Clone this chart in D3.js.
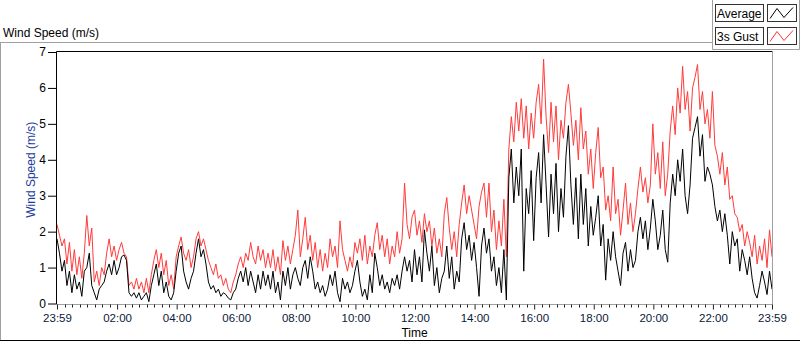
<!DOCTYPE html>
<html>
<head>
<meta charset="utf-8">
<script src="https://cdn.jsdelivr.net/npm/d3@7"></script>
<style>
  body { margin: 0; background: #fff; }
  svg { display: block; font-family: "Liberation Sans", Arial, sans-serif; }
</style>
</head>
<body>
<div class="container"></div>
<script>
/********** the Data **********/
// one sample every 5 minutes, starting at 23:59
let sampleStep = 5;

let seriesNames = ["Average", "3s Gust"];

let gust = [
  2.2,1.9,1.6,1.8,1.1,1.7,0.9,1.5,0.8,1.3,0.7,1.4,
  2.45,1.6,2.1,0.6,0.9,0.5,1.0,0.8,1.4,1.8,1.3,1.6,
  1.2,1.5,1.7,1.4,1.3,0.5,0.6,0.4,0.7,0.4,0.6,0.3,
  0.7,0.3,0.8,1.2,1.5,1.0,1.4,0.8,1.2,0.5,0.8,0.4,
  1.3,1.6,1.85,1.4,1.2,1.5,1.0,1.3,1.8,2.0,1.6,1.8,
  1.5,1.2,1.0,0.8,1.1,0.7,0.8,0.5,0.7,0.4,0.3,0.6,
  0.8,1.1,1.3,1.0,1.4,1.2,1.7,1.3,1.1,1.6,1.2,1.5,
  1.0,1.4,1.0,1.5,0.9,1.3,0.8,1.75,1.2,1.6,1.1,1.5,
  1.9,2.6,1.3,1.8,2.4,1.5,1.9,1.2,1.7,1.0,1.5,0.9,
  1.4,1.0,1.8,1.3,1.6,1.0,2.3,1.5,1.2,0.9,1.3,1.0,
  1.7,1.4,1.8,1.2,1.9,1.1,1.6,1.3,1.9,2.25,1.5,1.9,
  1.3,1.8,1.1,1.6,1.3,2.0,1.4,1.8,3.35,2.2,1.8,2.4,
  2.6,1.9,2.3,1.7,2.5,2.0,2.3,1.6,2.1,1.4,1.8,1.3,
  2.5,2.95,2.1,1.5,2.0,1.3,2.2,2.8,3.3,2.5,3.0,2.6,
  2.2,1.8,2.7,3.1,3.35,2.4,3.35,2.0,2.6,1.5,2.3,1.6,
  2.9,1.3,4.3,5.2,4.5,5.6,4.8,5.7,4.6,5.5,4.3,5.3,
  4.6,5.6,6.1,5.0,6.8,5.2,4.2,5.6,4.5,5.5,4.0,5.1,
  4.6,5.6,6.1,5.3,4.4,5.1,4.0,5.45,4.3,4.8,3.6,4.3,
  3.2,4.2,4.9,3.5,3.8,2.6,3.0,2.3,3.8,2.5,2.9,1.9,
  2.6,3.35,2.2,2.8,2.0,2.5,3.2,3.8,3.1,3.5,2.8,3.3,
  5.0,3.6,4.2,3.2,4.5,3.0,3.6,4.8,5.5,4.7,6.0,5.3,
  6.6,5.4,5.9,4.8,6.0,6.3,6.65,5.4,5.9,5.0,5.4,4.6,
  5.9,4.4,4.1,3.6,4.2,3.3,3.8,2.9,3.0,2.5,2.4,2.0,
  2.2,1.6,2.0,1.7,1.3,1.9,1.1,1.6,1.2,1.8,1.0,2.05,
  1.3
];

let average = [
  1.8,1.4,0.9,1.2,0.5,0.9,0.3,0.8,0.4,0.6,0.2,0.9,
  1.0,1.4,0.5,0.3,0.1,0.4,0.5,0.6,0.9,1.1,0.8,1.2,
  0.8,1.0,1.3,1.35,1.2,0.3,0.2,0.3,0.15,0.3,0.1,0.2,
  0.3,0.05,0.5,0.8,1.1,0.5,0.9,0.3,0.6,0.2,0.1,0.3,
  0.9,1.4,1.6,0.9,0.6,0.4,0.7,0.9,1.4,1.8,1.3,1.5,
  1.1,0.6,0.4,0.5,0.3,0.4,0.2,0.3,0.25,0.15,0.1,0.3,
  0.4,0.7,0.9,0.6,1.0,0.5,0.9,0.6,0.3,0.8,0.4,0.9,
  0.5,0.8,0.4,0.9,0.3,0.6,0.1,0.9,0.5,1.0,0.4,0.8,
  1.0,0.7,0.5,1.0,1.2,0.7,1.3,0.9,0.4,0.6,0.3,0.5,
  0.2,0.4,0.8,0.5,0.9,0.3,0.05,0.7,0.4,0.6,0.3,0.5,
  0.9,1.2,0.6,0.2,0.4,0.1,0.8,0.3,1.4,1.0,0.5,0.8,
  0.4,0.6,0.3,0.7,0.5,0.8,0.4,0.9,1.3,0.9,1.2,0.6,
  1.5,0.8,1.3,0.6,2.05,1.4,0.9,1.6,0.5,1.0,0.3,0.7,
  0.9,1.6,0.7,1.3,0.4,0.9,0.6,1.8,2.25,1.5,1.9,1.2,
  1.7,1.0,0.2,1.6,2.1,1.4,1.8,0.9,1.3,0.5,1.0,0.3,
  1.5,0.1,3.5,4.3,2.8,3.8,3.0,4.3,0.9,3.2,2.5,3.7,
  1.75,3.5,4.2,2.8,4.7,3.3,1.85,3.6,2.5,3.9,2.0,3.2,
  2.4,4.1,4.95,3.3,2.2,3.5,1.8,3.6,2.2,3.2,1.6,2.7,
  1.9,2.4,3.0,1.6,2.2,0.65,1.8,1.2,2.0,1.3,0.9,0.5,
  1.4,1.7,0.9,1.5,1.0,1.2,2.0,2.4,1.8,2.3,1.5,2.1,
  2.9,2.3,1.5,1.9,2.6,1.5,1.15,2.8,3.6,3.0,4.0,3.4,
  4.3,3.0,2.5,3.3,4.6,4.9,5.2,4.1,4.7,3.4,3.8,3.6,
  3.3,2.7,2.3,2.6,2.0,2.5,1.9,1.1,2.0,1.6,1.8,0.9,
  1.5,1.2,0.8,1.3,0.7,0.3,0.15,0.5,0.9,0.6,0.25,0.9,
  0.4
];

// x ticks, in minutes after 23:59
let xTickMinutes = [0, 121, 241, 361, 481, 601, 721, 841, 961, 1081, 1201, 1321, 1440];
let xTickLabels = ["23:59", "02:00", "04:00", "06:00", "08:00", "10:00", "12:00",
                   "14:00", "16:00", "18:00", "20:00", "22:00", "23:59"];
let yTicks = [0, 1, 2, 3, 4, 5, 6, 7];


/********** drawChart function **********/
function drawChart() {
  let width = 800, height = 342;
  let plot = {left: 57, right: 772, top: 52, bottom: 303.5};

  let svg = d3.select(".container")
    .append("svg")
      .attr("width", width)
      .attr("height", height);

  let xScale = d3.scaleLinear()
    .domain([0, 1440])
    .range([plot.left, plot.right]);

  let yScale = d3.scaleLinear()
    .domain([0, 7])
    .range([plot.bottom, plot.top]);

  /***** outer frame + title *****/
  svg.append("line")  // top, grey, stops at legend panel
    .attr("x1", 0).attr("x2", 712).attr("y1", 42.5).attr("y2", 42.5)
    .attr("stroke", "#a0a0a0");
  svg.append("line")
    .attr("x1", 0.5).attr("x2", 0.5).attr("y1", 42.5).attr("y2", 341)
    .attr("stroke", "#a0a0a0");
  svg.append("line")
    .attr("x1", 0).attr("x2", 800).attr("y1", 340.5).attr("y2", 340.5)
    .attr("stroke", "#000");

  svg.append("text")
    .attr("x", 3).attr("y", 37)
    .attr("font-size", 12)
    .text("Wind Speed (m/s)");

  /***** legend panel *****/
  let legend = svg.append("g").attr("class", "legend");
  legend.append("path")
    .attr("d", "M712.5,0 V49.5 H799.5 V0")
    .attr("fill", "none")
    .attr("stroke", "#a0a0a0");

  let legendColors = ["#000", "#ff3333"];
  seriesNames.forEach((name, i) => {
    let y0 = 4.5 + i * 23;
    legend.append("rect")
      .attr("x", 715.5).attr("y", y0).attr("width", 48).attr("height", 17)
      .attr("fill", "#fff").attr("stroke", "#333");
    legend.append("text")
      .attr("x", 717).attr("y", y0 + 13)
      .attr("font-size", 12)
      .text(name);
    legend.append("rect")
      .attr("x", 767.5).attr("y", y0).attr("width", 29).attr("height", 17)
      .attr("fill", "#fff").attr("stroke", "#333");
    legend.append("path")
      .attr("d", `M770,${y0 + 14} L777,${y0 + 4} L784,${y0 + 13} L793,${y0 + 3}`)
      .attr("fill", "none")
      .attr("stroke", legendColors[i]);
  });

  /***** data lines *****/
  svg.append("clipPath").attr("id", "plot-clip")
    .append("rect")
      .attr("x", plot.left).attr("y", plot.top)
      .attr("width", plot.right - plot.left).attr("height", plot.bottom - plot.top + 1);

  let line = d3.line()
    .x((d, i) => xScale(i * sampleStep))
    .y(d => yScale(d));

  let lines = svg.append("g").attr("clip-path", "url(#plot-clip)");
  lines.append("path")
    .datum(gust)
    .attr("d", line)
    .attr("fill", "none")
    .attr("stroke", "#ff3b3b")
    .attr("stroke-width", 1);
  lines.append("path")
    .datum(average)
    .attr("d", line)
    .attr("fill", "none")
    .attr("stroke", "#000")
    .attr("stroke-width", 1);

  /***** plot border: dark top/left, light bottom/right *****/
  svg.append("path")
    .attr("d", `M${plot.left - 0.5},${plot.bottom + 1} V${plot.top - 0.5} H${plot.right + 0.5}`)
    .attr("fill", "none").attr("stroke", "#000");
  svg.append("path")
    .attr("d", `M${plot.left - 0.5},${plot.bottom + 1} H${plot.right + 0.5} V${plot.top - 0.5}`)
    .attr("fill", "none").attr("stroke", "#a0a0a0");

  /***** Y-axis *****/
  let yAxis = svg.append("g")
    .attr("class", "y-axis")
    .attr("transform", `translate(${plot.left - 1}, 0)`)
    .call(d3.axisLeft(yScale).tickValues(yTicks).tickSize(8).tickPadding(2).tickFormat(d3.format("d")));
  yAxis.select(".domain").remove();
  yAxis.selectAll("line").attr("stroke", "#000");
  yAxis.selectAll("text")
    .attr("font-size", 12)
    .attr("font-family", "Liberation Sans, Arial, sans-serif")
    .attr("fill", "#000");

  svg.append("text")
    .attr("transform", `translate(35, ${(plot.top + plot.bottom) / 2 - 8}) rotate(-90)`)
    .attr("text-anchor", "middle")
    .attr("font-size", 12)
    .attr("fill", "#1c3c9c")
    .text("Wind Speed (m/s)");

  /***** X-axis *****/
  let minorTicks = [];
  for (let k = 0; k < xTickMinutes.length - 1; k++) {
    let a = xTickMinutes[k], b = xTickMinutes[k + 1];
    for (let j = 1; j < 8; j++) minorTicks.push(a + (b - a) * j / 8);
  }

  let xAxisG = svg.append("g")
    .attr("class", "x-axis")
    .attr("transform", `translate(0, ${plot.bottom + 1})`);

  xAxisG.selectAll(".minor")
    .data(minorTicks)
    .join("line")
      .attr("class", "minor")
      .attr("x1", d => Math.round(xScale(d)) + 0.5)
      .attr("x2", d => Math.round(xScale(d)) + 0.5)
      .attr("y1", 0).attr("y2", 3)
      .attr("stroke", "#222");

  xAxisG.call(d3.axisBottom(xScale)
      .tickValues(xTickMinutes)
      .tickSize(5)
      .tickPadding(4)
      .tickFormat((d, i) => xTickLabels[i]));
  xAxisG.select(".domain").remove();
  xAxisG.selectAll(".tick line").attr("stroke", "#222");
  xAxisG.selectAll(".tick text")
    .attr("font-size", 11.5)
    .attr("font-family", "Liberation Sans, Arial, sans-serif")
    .attr("fill", "#0a1a3a");

  svg.append("text")
    .attr("x", (plot.left + plot.right) / 2)
    .attr("y", 337)
    .attr("text-anchor", "middle")
    .attr("font-size", 12)
    .text("Time");
}

drawChart();
</script>
</body>
</html>
